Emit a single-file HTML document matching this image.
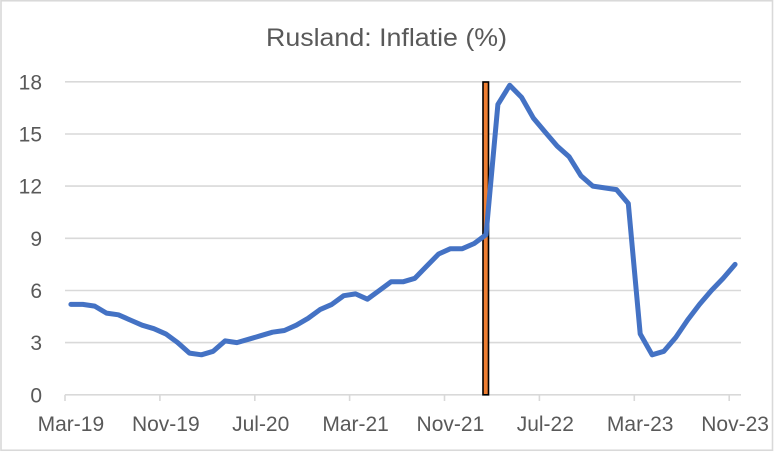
<!DOCTYPE html>
<html>
<head>
<meta charset="utf-8">
<style>
html,body{margin:0;padding:0;background:#fff;}
svg{display:block;}
text{font-family:"Liberation Sans",Arial,sans-serif;fill:#595959;}
</style>
</head>
<body>
<svg width="774" height="452" viewBox="0 0 774 452" xmlns="http://www.w3.org/2000/svg">
  <rect x="0" y="0" width="774" height="452" fill="#fff"/>
  <rect x="1" y="0.75" width="771.5" height="449.5" fill="none" stroke="#d9d9d9" stroke-width="1.6"/>

  <text x="386.5" y="46" font-size="25" text-anchor="middle" textLength="241" lengthAdjust="spacingAndGlyphs">Rusland: Inflatie (%)</text>

  <!-- gridlines -->
  <g stroke="#d9d9d9" stroke-width="1.6">
    <line x1="65" y1="81.8" x2="741" y2="81.8"/>
    <line x1="65" y1="134" x2="741" y2="134"/>
    <line x1="65" y1="186.1" x2="741" y2="186.1"/>
    <line x1="65" y1="238.3" x2="741" y2="238.3"/>
    <line x1="65" y1="290.5" x2="741" y2="290.5"/>
    <line x1="65" y1="342.6" x2="741" y2="342.6"/>
    <line x1="65" y1="394.8" x2="741" y2="394.8"/>
  </g>
  <!-- ticks -->
  <g stroke="#d9d9d9" stroke-width="1.6">
    <line x1="65" y1="394.8" x2="65" y2="401"/>
    <line x1="159.9" y1="394.8" x2="159.9" y2="401"/>
    <line x1="254.8" y1="394.8" x2="254.8" y2="401"/>
    <line x1="349.6" y1="394.8" x2="349.6" y2="401"/>
    <line x1="444.5" y1="394.8" x2="444.5" y2="401"/>
    <line x1="539.4" y1="394.8" x2="539.4" y2="401"/>
    <line x1="634.3" y1="394.8" x2="634.3" y2="401"/>
    <line x1="729.2" y1="394.8" x2="729.2" y2="401"/>
  </g>

  <!-- y labels -->
  <g font-size="21" text-anchor="end">
    <text x="42" y="89.3">18</text>
    <text x="42" y="141.5">15</text>
    <text x="42" y="193.6">12</text>
    <text x="42" y="245.8">9</text>
    <text x="42" y="298">6</text>
    <text x="42" y="350.1">3</text>
    <text x="42" y="402.3">0</text>
  </g>

  <!-- x labels -->
  <g font-size="21" text-anchor="middle">
    <text x="70.9" y="431">Mar-19</text>
    <text x="165.8" y="431">Nov-19</text>
    <text x="260.7" y="431">Jul-20</text>
    <text x="355.6" y="431">Mar-21</text>
    <text x="450.4" y="431">Nov-21</text>
    <text x="545.3" y="431">Jul-22</text>
    <text x="640.2" y="431">Mar-23</text>
    <text x="735.1" y="431">Nov-23</text>
  </g>

  <!-- orange bar -->
  <rect x="483" y="82" width="5.5" height="312.8" fill="#ED7D31" stroke="#000" stroke-width="1.6"/>

  <!-- line -->
  <polyline fill="none" stroke="#4472C4" stroke-width="5" stroke-linejoin="round" stroke-linecap="round"
    points="70.9,304.4 82.8,304.4 94.7,306.1 106.5,313.1 118.4,314.8 130.2,320.0 142.1,325.2 153.9,328.7 165.8,333.9 177.7,342.6 189.5,353.1 201.4,354.8 213.2,351.3 225.1,340.9 236.9,342.6 248.8,339.2 260.7,335.7 272.5,332.2 284.4,330.5 296.3,325.2 308.1,318.3 320.0,309.6 331.8,304.4 343.7,295.7 355.6,293.9 367.4,299.2 379.3,290.5 391.1,281.8 403.0,281.8 414.9,278.3 426.7,266.1 438.6,254.0 450.4,248.7 462.3,248.7 474.2,243.5 486.0,234.8 497.9,104.4 509.7,85.3 521.6,97.4 533.5,118.3 545.3,132.2 557.2,146.1 569.0,156.6 580.9,175.7 592.8,186.1 604.6,187.9 616.5,189.6 628.3,203.5 640.2,333.9 652.1,354.8 663.9,351.3 675.8,337.4 687.6,320.0 699.5,304.4 711.4,290.5 723.2,278.3 735.1,264.4"/>
</svg>
</body>
</html>
